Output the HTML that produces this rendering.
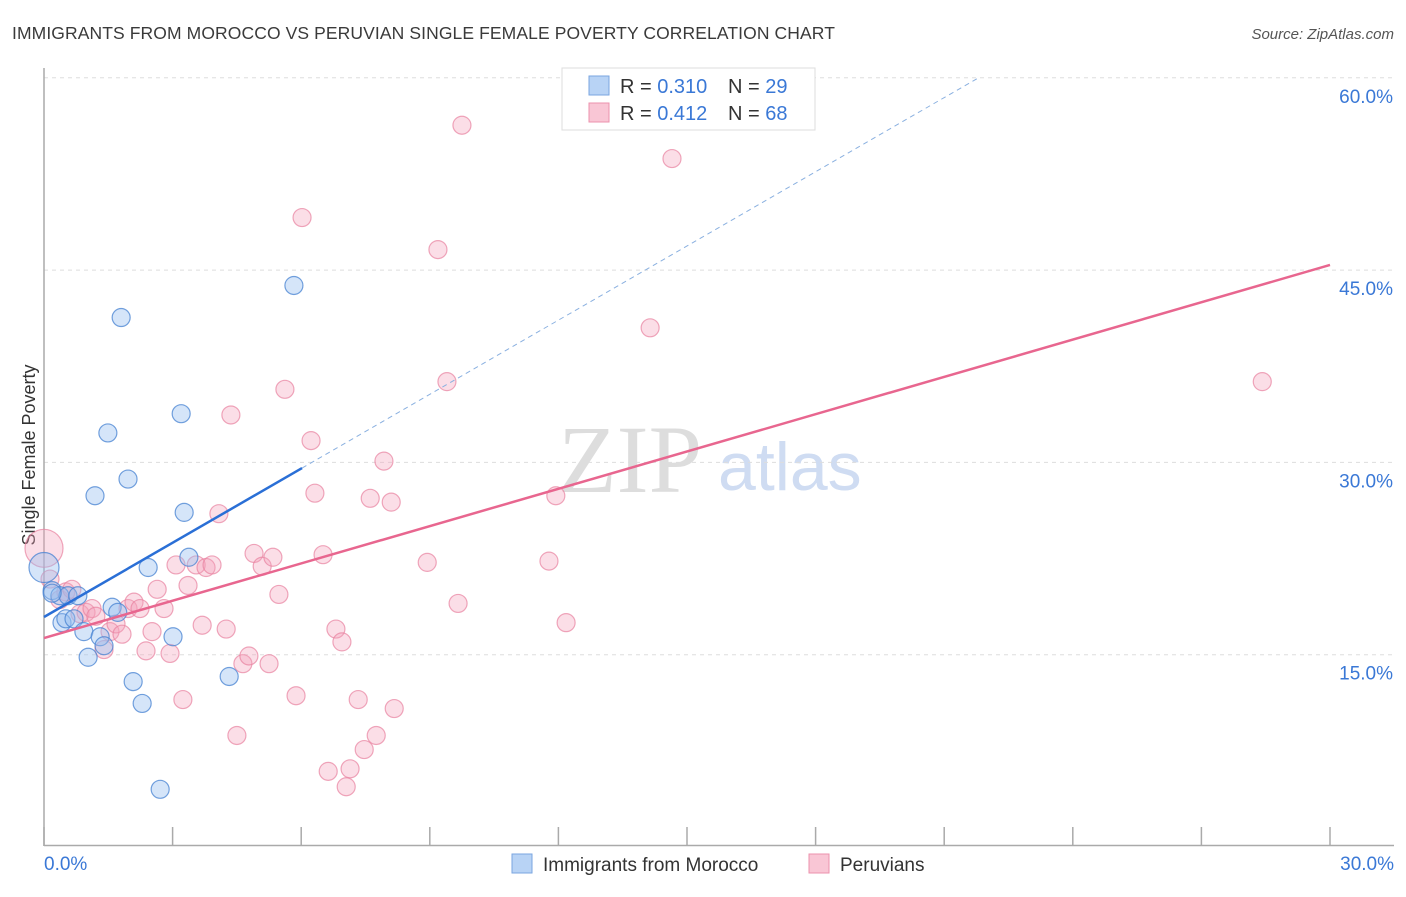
<!DOCTYPE html>
<html><head><meta charset="utf-8"><style>
body{margin:0;background:#fff;font-family:"Liberation Sans",sans-serif;}
</style></head><body>
<svg id="c" width="1406" height="892" xmlns="http://www.w3.org/2000/svg">
<text x="12" y="39" font-size="17.5" fill="#3a3a3a" letter-spacing="0.1">IMMIGRANTS FROM MOROCCO VS PERUVIAN SINGLE FEMALE POVERTY CORRELATION CHART</text>
<text x="1394" y="39" font-size="15" fill="#555" text-anchor="end" font-style="italic">Source: ZipAtlas.com</text>
<text x="35" y="455" font-size="18" fill="#333" text-anchor="middle" transform="rotate(-90 35 455)">Single Female Poverty</text>
<text x="558" y="492" font-size="96" fill="#ddd" font-family="Liberation Serif,serif">ZIP</text>
<text x="718" y="490" font-size="68" fill="#cfdcf2">atlas</text>
<g id="grid"></g><g id="pts"></g><g id="lines"></g>
<g>
<rect x="562" y="68" width="253" height="62" fill="#fff" stroke="#ddd"/>
<rect x="589" y="76" width="20" height="19" fill="#b8d3f5" stroke="#7aa6e0"/>
<rect x="589" y="103" width="20" height="19" fill="#f9c6d5" stroke="#ec92ad"/>
<text x="620" y="93" font-size="20" fill="#333">R = <tspan fill="#3a78d6">0.310</tspan></text>
<text x="728" y="93" font-size="20" fill="#333">N = <tspan fill="#3a78d6">29</tspan></text>
<text x="620" y="120" font-size="20" fill="#333">R = <tspan fill="#3a78d6">0.412</tspan></text>
<text x="728" y="120" font-size="20" fill="#333">N = <tspan fill="#3a78d6">68</tspan></text>
</g>
<g>
<rect x="512" y="854" width="20" height="19" fill="#b8d3f5" stroke="#7aa6e0"/>
<text x="543" y="871" font-size="19" fill="#333">Immigrants from Morocco</text>
<rect x="809" y="854" width="20" height="19" fill="#f9c6d5" stroke="#ec92ad"/>
<text x="840" y="871" font-size="19" fill="#333">Peruvians</text>
</g>
</svg>
<script>
const yTicks=[15,30,45,60];
const xTickVals=[0,3,6,9,12,15,18,21,24,27,30];
const blueX=[0.19,0,0.37,0.56,0.79,0.42,0.51,0.7,0.93,1.03,1.31,1.4,1.59,1.72,1.19,1.49,1.8,1.96,2.08,2.29,2.43,2.71,3.01,3.2,3.27,3.38,4.32,5.83,0.19];
const blueY=[20.0,21.8,19.6,19.6,19.6,17.5,17.8,17.8,16.8,14.8,16.4,15.7,18.7,18.3,27.4,32.3,41.3,28.7,12.9,11.2,21.8,4.5,16.4,33.8,26.1,22.6,13.3,43.8,19.8];
const pinkX=[0,0.14,0.37,0.51,0.65,0.84,0.98,1.12,1.21,1.4,1.54,1.68,1.82,1.96,2.1,2.24,2.38,2.52,2.64,2.8,2.94,3.08,3.24,3.36,3.55,3.69,3.78,3.92,4.08,4.25,4.36,4.5,4.64,4.78,4.9,5.09,5.25,5.34,5.48,5.62,5.88,6.02,6.23,6.32,6.51,6.81,6.95,7.14,6.63,7.05,7.33,7.47,7.61,7.75,7.93,8.1,8.17,8.94,9.19,9.4,9.66,9.75,11.78,11.94,12.18,14.14,14.65,28.42];
const pinkY=[23.3,20.9,19.3,19.9,20.1,18.2,18.3,18.6,18.0,15.4,16.8,17.4,16.6,18.6,19.1,18.6,15.3,16.8,20.1,18.6,15.1,22.0,11.5,20.4,22.0,17.3,21.8,22.0,26.0,17.0,33.7,8.7,14.3,14.9,22.9,21.9,14.3,22.6,19.7,35.7,11.8,49.1,31.7,27.6,22.8,17.0,16.0,6.1,5.9,4.7,11.5,7.6,27.2,8.7,30.1,26.9,10.8,22.2,46.6,36.3,19.0,56.3,22.3,27.4,17.5,40.5,53.7,36.3];
const blueLine=[0,17.94,6.02,29.56,21.8,60];
const pinkLine=[0,16.3,30,45.4];
const X=v=>44+v/30*1286, Y=v=>847-v/15*192.3;
const NS='http://www.w3.org/2000/svg';
function mk(p,t,a){const e=document.createElementNS(NS,t);for(const k in a)e.setAttribute(k,a[k]);p.appendChild(e);return e;}
const g=document.getElementById('grid');
yTicks.forEach(v=>{
 const l=mk(g,'line',{x1:44,x2:1394,y1:Y(v),y2:Y(v),stroke:'#ddd','stroke-dasharray':'4,4'});
 
 
 const t=mk(g,'text',{x:1393,y:Y(v)+25,'font-size':19,fill:'#3a78d6','text-anchor':'end'});
 t.textContent=v.toFixed(1)+'%';
 
 
});
mk(g,'line',{x1:44,x2:44,y1:68,y2:846,stroke:'#aaa','stroke-width':1.5});
mk(g,'line',{x1:44,x2:1394,y1:845.5,y2:845.5,stroke:'#aaa','stroke-width':1.5});
xTickVals.forEach(v=>{
 const l=mk(g,'line',{x1:X(v),x2:X(v),y1:827,y2:846,stroke:'#aaa','stroke-width':1.5});
 
 
});
[[0,'0.0%','start',44],[30,'30.0%','end',1394]].forEach(([v,s,a,x])=>{
 const t=mk(g,'text',{x:x,y:870,'font-size':19,fill:'#3a78d6','text-anchor':a});
 t.textContent=s;
 
 
});
const P=document.getElementById('pts');
pinkX.forEach((x,i)=>{
 const c=mk(P,'circle',{cx:X(x),cy:Y(pinkY[i]),r:i==0?19:9,fill:'rgba(244,160,186,0.35)',stroke:'rgba(232,130,160,0.7)','stroke-width':1.2});
 
 
});
blueX.forEach((x,i)=>{
 const c=mk(P,'circle',{cx:X(x),cy:Y(blueY[i]),r:i==1?15:9,fill:'rgba(150,190,240,0.4)',stroke:'rgba(70,130,210,0.75)','stroke-width':1.2});
 
 
});
const L=document.getElementById('lines');
let e=mk(L,'line',{x1:X(blueLine[0]),y1:Y(blueLine[1]),x2:X(blueLine[2]),y2:Y(blueLine[3]),stroke:'#2a6fd6','stroke-width':2.5});


e=mk(L,'line',{x1:X(blueLine[2]),y1:Y(blueLine[3]),x2:X(blueLine[4]),y2:Y(blueLine[5]),stroke:'#8ab0e0','stroke-width':1,'stroke-dasharray':'5,4'});


e=mk(L,'line',{x1:X(pinkLine[0]),y1:Y(pinkLine[1]),x2:X(pinkLine[2]),y2:Y(pinkLine[3]),stroke:'#e8668f','stroke-width':2.5});


</script>
</body></html>
